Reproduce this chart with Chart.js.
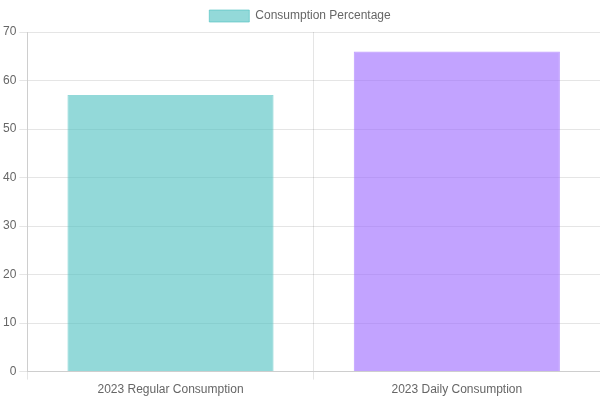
<!DOCTYPE html>
<html>
<head>
<meta charset="utf-8">
<script src="https://cdn.jsdelivr.net/npm/chart.js@4/dist/chart.umd.min.js"></script>
<style>html,body{margin:0;padding:0;background:#fff}#wrap{width:600px;height:400px}</style>
</head>
<body>
<div id="wrap"><canvas id="c"></canvas></div>
<script>
const categories = ["2023 Regular Consumption", "2023 Daily Consumption"];
const seriesLabel = "Consumption Percentage";
const values = [57, 66];
const fillColors = ["rgba(75, 192, 192, 0.6)", "rgba(153, 102, 255, 0.6)"];
const borderColors = ["rgba(75, 192, 192, 1)", "rgba(153, 102, 255, 1)"];

new Chart(document.getElementById('c'), {
  type: 'bar',
  data: {
    labels: categories,
    datasets: [{
      label: seriesLabel,
      data: values,
      backgroundColor: fillColors,
      borderColor: fillColors,
      borderWidth: 1
    }]
  },
  options: {
    responsive: true,
    maintainAspectRatio: false,
    animation: false,
    scales: {
      y: { beginAtZero: true }
    }
  }
});
</script>
</body>
</html>
